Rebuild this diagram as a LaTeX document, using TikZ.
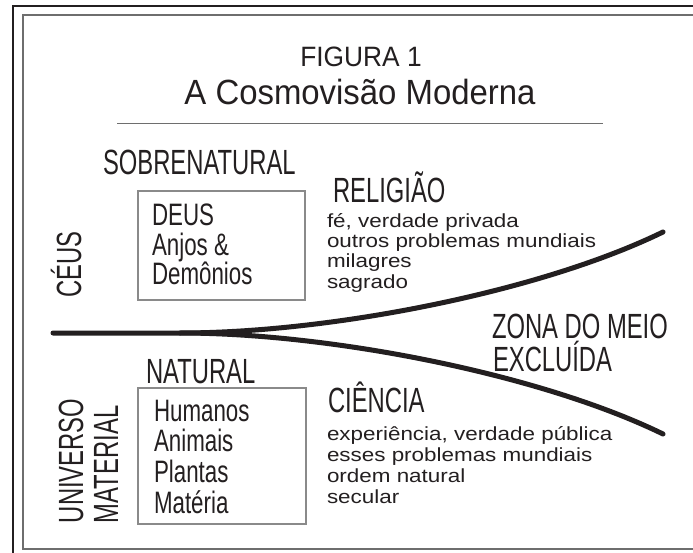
\documentclass[tikz,border=0pt]{standalone}
\usepackage{fontspec}
\setmainfont{Liberation Sans}
\newfontfamily\headfontfam[FakeStretch=0.68]{Liberation Sans}
\newfontfamily\boxfontfam[FakeStretch=0.72]{Liberation Sans}
\newfontfamily\bodyfontfam[FakeStretch=1.18]{Liberation Sans}
\newfontfamily\titlefontfam[FakeStretch=0.94]{Liberation Sans}
\definecolor{ink}{HTML}{231F20}
\definecolor{framegray}{HTML}{6E6E6E}
\definecolor{boxgray}{HTML}{8A8A8A}
\begin{document}
\begin{tikzpicture}[x=1pt,y=-1pt,
  every node/.style={inner sep=0pt, outer sep=0pt, text=ink},
  titlesmall/.style={font=\titlefontfam\fontsize{28}{32}\selectfont, anchor=base},
  titlebig/.style={font=\titlefontfam\fontsize{35}{38}\selectfont, anchor=base},
  headtext/.style={font=\headfontfam\fontsize{35}{38}\selectfont, anchor=base west},
  boxtext/.style={font=\boxfontfam\fontsize{31}{33}\selectfont, anchor=base west},
  bodytext/.style={font=\bodyfontfam\fontsize{19}{21}\selectfont, anchor=base west},
  framebox/.style={draw=boxgray, line width=1.1pt, anchor=north west},
  bigline/.style={draw=ink, line width=5pt, line cap=round}
]
\useasboundingbox (0,0) rectangle (693,553);
\clip (0,0) rectangle (693,553);
\fill[white] (0,0) rectangle (693,553);
% frames
\draw[ink, line width=2.6pt] (13,6) rectangle (740,600);
\draw[framegray, line width=1.1pt] (23,15) rectangle (720,549);
% title
\node[titlesmall] (fig) at (361,67) {FIGURA 1};
\node[titlebig] (title) at (360,105) {A Cosmovisão Moderna};
\coordinate (ruleL) at (117,124);
\coordinate (ruleR) at (603,124);
\draw[framegray, line width=1pt] (ruleL) -- (ruleR);
% upper part
\node[headtext] (sobre) at (103,175) {SOBRENATURAL};
\node[framebox, minimum width=167pt, minimum height=109pt] (sobrebox) at (138,191) {};
\node[boxtext] (deus) at (152,226) {DEUS};
\node[boxtext] (anjos) at (152,255) {Anjos \&};
\node[boxtext] (demonios) at (152,284) {Demônios};
\node[headtext, rotate=90] (ceus) at (81,298) {CÉUS};
\node[headtext] (religiao) at (333,203) {RELIGIÃO};
\node[bodytext] (r1) at (327,228) {fé, verdade privada};
\node[bodytext] (r2) at (327,248) {outros problemas mundiais};
\node[bodytext] (r3) at (327,268) {milagres};
\node[bodytext] (r4) at (327,288) {sagrado};
% middle
\coordinate (start) at (53,333);
\coordinate (split) at (180,333);
\coordinate (upend) at (663,232);
\coordinate (lowend) at (663,434);
\draw[bigline] (start) -- (split) .. controls (330,333) and (540,292) .. (upend);
\draw[bigline] (split) .. controls (330,333) and (540,374) .. (lowend);
\node[headtext] (zona) at (492,338) {ZONA DO MEIO};
\node[headtext] (excl) at (493,371) {EXCLUÍDA};
% lower part
\node[headtext] (natural) at (146,383) {NATURAL};
\node[framebox, minimum width=168pt, minimum height=136pt] (natbox) at (138,388) {};
\node[boxtext] (hum) at (154,421) {Humanos};
\node[boxtext] (ani) at (154,451) {Animais};
\node[boxtext] (pla) at (154,482) {Plantas};
\node[boxtext] (mat) at (154,513) {Matéria};
\node[headtext, rotate=90] (univ) at (83,523) {UNIVERSO};
\node[headtext, rotate=90] (mater) at (118,523) {MATERIAL};
\node[headtext] (ciencia) at (328,412) {CIÊNCIA};
\node[bodytext] (c1) at (327,440) {experiência, verdade pública};
\node[bodytext] (c2) at (327,461) {esses problemas mundiais};
\node[bodytext] (c3) at (327,482) {ordem natural};
\node[bodytext] (c4) at (327,503) {secular};
\end{tikzpicture}
\end{document}
